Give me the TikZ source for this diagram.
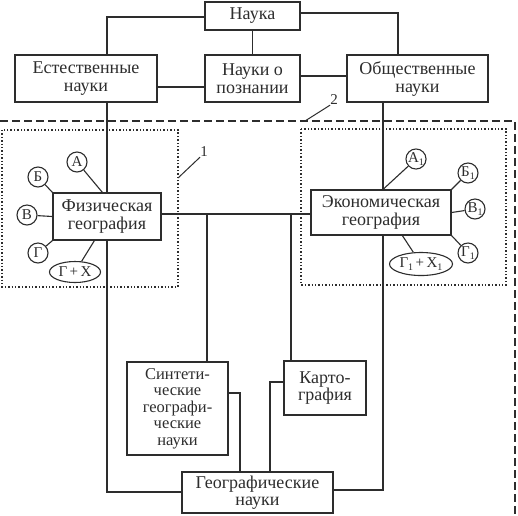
\documentclass[tikz,border=0pt]{standalone}
\usepackage{fontspec}
\setmainfont{Liberation Serif}
\usetikzlibrary{shapes.geometric,calc}
\definecolor{ink}{RGB}{45,45,45}
\newcommand{\lowidx}[1]{\raisebox{-0.35ex}{\fontsize{10}{10}\selectfont #1}}
\begin{document}
\begin{tikzpicture}[x=1pt,y=-1pt,
  box/.style={draw=ink, text=ink, line width=1.2pt, inner sep=0pt, align=center,
    font=\fontsize{18}{18}\selectfont},
  lnk/.style={draw=ink, line width=1.2pt},
  circ/.style={circle, draw=ink, text=ink, line width=1.1pt, inner sep=0pt, minimum size=20pt,
    font=\fontsize{15}{15}\selectfont},
  ell/.style={ellipse, draw=ink, text=ink, line width=1.1pt, inner sep=0pt,
    font=\fontsize{15}{15}\selectfont},
  dashline/.style={draw=ink, line width=1.3pt, dash pattern=on 8pt off 4pt},
  dotline/.style={draw=ink, line width=1.1pt, dash pattern=on 1.4pt off 2pt},
  lbl/.style={text=ink, inner sep=0pt, font=\fontsize{15}{15}\selectfont}]
\useasboundingbox[fill=white] (0,0) rectangle (518,515);

% dashed and dotted frames
\draw[dashline] (0,121) -- (515,121) -- (515,515);
\draw[dotline] (2,130) rectangle (178,287);
\draw[dotline] (301,129) rectangle (506,285);

% main boxes
\node[box, minimum width=95pt, minimum height=28pt] (nauka) at (252.5,16) {Наука};
\node[box, minimum width=142pt, minimum height=47pt] (est) at (86,78.5) {Естественные\\науки};
\node[box, minimum width=95pt, minimum height=47pt] (pozn) at (252.5,78.5) {Науки о\\познании};
\node[box, minimum width=141pt, minimum height=47pt] (obsh) at (417.5,78.5) {Общественные\\науки};
\node[box, minimum width=108pt, minimum height=47pt] (fiz) at (107,216.5) {Физическая\\география};
\node[box, minimum width=140pt, minimum height=45pt] (econ) at (381,212.5) {Экономическая\\география};
\node[box, minimum width=101pt, minimum height=93pt, font=\fontsize{16.5}{16.5}\selectfont] (sint) at (177.5,408.5) {Синтети-\\ческие\\географи-\\ческие\\науки};
\node[box, minimum width=82pt, minimum height=54pt, font=\fontsize{18}{16.5}\selectfont] (karto) at (325,388) {Карто-\\графия};
\node[box, minimum width=151pt, minimum height=41pt, font=\fontsize{18}{17}\selectfont] (geo) at (257.5,492.5) {Географические\\науки};

% coordinates for connector routes
\coordinate (cNR) at (398,13);
\coordinate (cFE) at (207,214);
\coordinate (cKE) at (291,214);
\coordinate (cSR) at (240,393);
\coordinate (cKL) at (270,382);
\coordinate (cFB) at (107,492);
\coordinate (cEB) at (383,490);

% top connectors
\draw[lnk] (nauka.west |- 0,17) -| (est.north -| fiz.north);
\draw[lnk] (nauka.east |- cNR) -| (obsh.north -| cNR);
\draw[lnk] (nauka.south) -- (pozn.north);
\draw[lnk] (est.east |- 0,87) -- (pozn.west |- 0,87);
\draw[lnk] (pozn.east |- 0,76) -- (obsh.west |- 0,76);

% vertical spines
\draw[lnk] (est.south -| fiz.north) -- (fiz.north);
\draw[lnk] (fiz.south) -- (cFB) -- (geo.west |- cFB);
\draw[lnk] (obsh.south -| cEB) -- (econ.north -| cEB);
\draw[lnk] (econ.south -| cEB) -- (cEB) -- (geo.east |- cEB);

% middle connectors
\draw[lnk] (fiz.east |- cFE) -- (econ.west |- cFE);
\draw[lnk] (cFE) -- (sint.north -| cFE);
\draw[lnk] (cKE) -- (karto.north -| cKE);
\draw[lnk] (sint.east |- cSR) -- (cSR) -- (geo.north -| cSR);
\draw[lnk] (karto.west |- cKL) -- (cKL) -- (geo.north -| cKL);

% physical geography satellites
\node[circ] (a) at (77,162) {А};
\node[circ] (b) at (38,177) {Б};
\node[circ] (v) at (27,215) {В};
\node[circ] (g) at (38,253) {Г};
\node[ell, minimum width=51pt, minimum height=21pt] (gx) at (75,272) {Г\,+\,Х};
\draw[lnk, line width=1.1pt] (a) -- ([xshift=50pt]fiz.north west);
\draw[lnk, line width=1.1pt] (b) -- (fiz.north west);
\draw[lnk, line width=1.1pt] (v) -- (fiz.west);
\draw[lnk, line width=1.1pt] (g) -- (fiz.south west);
\draw[lnk, line width=1.1pt] (gx) -- ([xshift=42pt]fiz.south west);

% economic geography satellites
\node[circ] (a1) at (416,159) {А\lowidx{1}};
\node[circ] (b1) at (468,173) {Б\lowidx{1}};
\node[circ] (v1) at (475,209) {В\lowidx{1}};
\node[circ] (g1) at (468,253) {Г\lowidx{1}};
\node[ell, minimum width=63pt, minimum height=23pt] (gx1) at (421,264) {Г\lowidx{1}\,+\,Х\lowidx{1}};
\draw[lnk, line width=1.1pt] (a1) -- (econ.north -| cEB);
\draw[lnk, line width=1.1pt] (b1) -- (econ.north east);
\draw[lnk, line width=1.1pt] (v1) -- (econ.east);
\draw[lnk, line width=1.1pt] (g1) -- (econ.south east);
\draw[lnk, line width=1.1pt] (gx1) -- ([xshift=92pt]econ.south west);

% labels 1 and 2
\node[lbl] (l1) at (204,152) {1};
\coordinate (l1a) at (178,178);
\draw[lnk, line width=1pt] (l1a) -- (l1.south west);
\node[lbl] (l2) at (334,100) {2};
\coordinate (l2a) at (305,121);
\draw[lnk, line width=1pt] (l2a) -- (l2.south west);
\end{tikzpicture}
\end{document}
